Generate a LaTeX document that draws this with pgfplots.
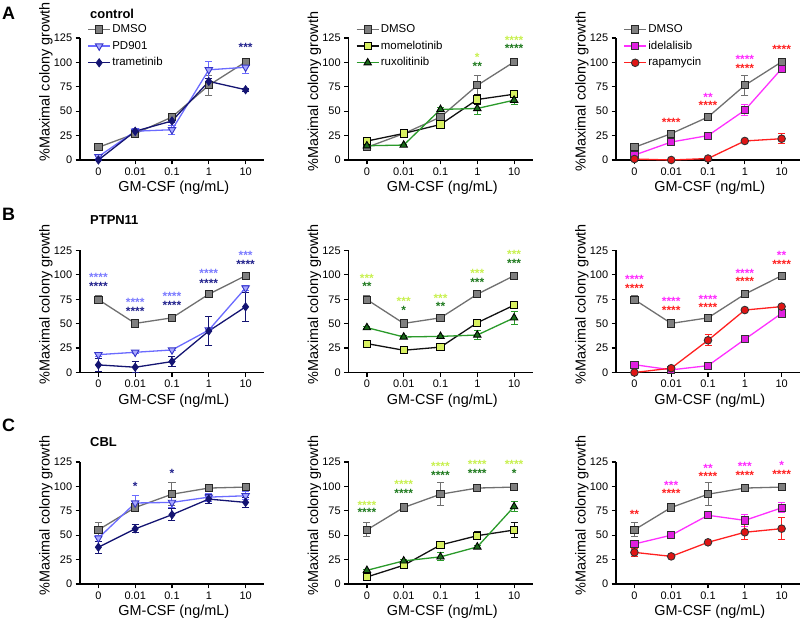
\documentclass[border=0pt]{standalone}
\usepackage{pgfplots}
\pgfplotsset{compat=1.18}
\usepackage{fontspec}
\setmainfont{Liberation Sans}
\setsansfont{Liberation Sans}
\definecolor{dmsoLine}{HTML}{707070}
\definecolor{dmsoFill}{HTML}{7F7F7F}
\definecolor{pdLine}{HTML}{6B6BFF}
\definecolor{pdFill}{HTML}{A8A8FF}
\definecolor{pdEdge}{HTML}{3535C8}
\definecolor{tramLine}{HTML}{141472}
\definecolor{momFill}{HTML}{D8F060}
\definecolor{momLine}{HTML}{111111}
\definecolor{ruxFill}{HTML}{1A6A1A}
\definecolor{ruxLine}{HTML}{2A9A2A}
\definecolor{ideFill}{HTML}{E020E0}
\definecolor{ideLine}{HTML}{FF30FF}
\definecolor{rapFill}{HTML}{E01515}
\definecolor{rapLine}{HTML}{FF2020}
\definecolor{pdStar}{HTML}{7B7BFF}
\definecolor{tramStar}{HTML}{22228C}
\definecolor{momStar}{HTML}{C8F050}
\definecolor{ruxStar}{HTML}{1F7A1F}
\definecolor{ideStar}{HTML}{FF2AFF}
\definecolor{rapStar}{HTML}{FF2020}
\pgfplotsset{
  gp/.style={
    scale only axis, width=184bp, height=122bp,
    xmin=-0.5, xmax=4.5, ymin=0, ymax=125,
    axis x line*=bottom, axis y line*=left,
    axis line style={-, line width=1.2bp, black},
    xtick={0,1,2,3,4}, xticklabels={0,0.01,0.1,1,10},
    ytick={0,25,50,75,100,125},
    tick align=outside, major tick length=4.3bp,
    tick style={line width=1.2bp, black},
    tick label style={font=\fontsize{11}{13}\selectfont},
    /pgf/number format/assume math mode=true,
    xlabel={GM-CSF (ng/mL)}, ylabel={\%Maximal colony growth},
    label style={font=\fontsize{14.5}{16}\selectfont},
    xlabel style={at={(axis description cs:0.51,0)}, anchor=center, yshift=-28bp},
    ylabel style={at={(axis description cs:-0.185,0.56)}, anchor=center},
    clip=false, anchor=south west,
    legend image code/.code={\draw[mark repeat=2,mark phase=2,##1] plot coordinates {(0bp,0bp)(11bp,0bp)(22bp,0bp)};},
    legend style={at={(axis description cs:0.04,1.13)}, anchor=north west, draw=none, fill=none,
      font=\fontsize{11.5}{13.5}\selectfont, inner sep=0pt, row sep=2.6bp,
      nodes={inner sep=1.5bp, text height=8.6bp, text depth=2.5bp}},
    legend cell align=left,
  },
  ebar/.style={
    error bars/y dir=both, error bars/y explicit,
    error bars/error bar style={color=#1, line width=1bp, solid},
    error bars/error mark options={rotate=90, mark size=3.5bp, line width=1bp, color=#1},
  },
  dmso/.style={color=dmsoLine, line width=1.3bp, mark=square*, mark size=3.6bp,
    mark options={fill=dmsoFill, draw=black!85, line width=0.9bp}, ebar=dmsoLine},
  pd/.style={color=pdLine, line width=1.3bp, mark=triangle*, mark size=4.3bp,
    mark options={fill=pdFill, draw=pdEdge, line width=0.9bp, rotate=180}, ebar=pdLine},
  tram/.style={color=tramLine, line width=1.3bp, mark=diamond*, mark size=4bp,
    mark options={fill=tramLine, draw=tramLine, line width=0.9bp}, ebar=tramLine},
  mom/.style={color=momLine, line width=1.3bp, mark=square*, mark size=3.6bp,
    mark options={fill=momFill, draw=black, line width=0.9bp}, ebar=momLine},
  rux/.style={color=ruxLine, line width=1.3bp, mark=triangle*, mark size=4.3bp,
    mark options={fill=ruxFill, draw=black, line width=0.9bp}, ebar=ruxLine},
  ide/.style={color=ideLine, line width=1.3bp, mark=square*, mark size=3.6bp,
    mark options={fill=ideFill, draw=black!80, line width=0.9bp}, ebar=ideLine},
  rap/.style={color=rapLine, line width=1.3bp, mark=*, mark size=3.8bp,
    mark options={fill=rapFill, draw=black!80, line width=0.9bp}, ebar=rapLine},
}
\tikzset{st/.style={anchor=base, yshift=-7bp, inner sep=0pt, font=\fontsize{12}{13}\selectfont\bfseries, text=#1}}
\begin{document}
\begin{tikzpicture}
\useasboundingbox (0,0) rectangle (800bp,620bp);
% panel letters and titles
\node[font=\fontsize{18}{20}\selectfont\bfseries] at (8.5bp,607bp) {A};
\node[font=\fontsize{18}{20}\selectfont\bfseries] at (8.5bp,405.5bp) {B};
\node[font=\fontsize{18}{20}\selectfont\bfseries] at (8.5bp,195bp) {C};
\node[font=\fontsize{13}{15}\selectfont\bfseries, anchor=west, inner sep=0pt] at (90bp,606bp) {control};
\node[font=\fontsize{13}{15}\selectfont\bfseries, anchor=west, inner sep=0pt] at (90bp,400bp) {PTPN11};
\node[font=\fontsize{13}{15}\selectfont\bfseries, anchor=west, inner sep=0pt] at (90bp,178.3bp) {CBL};

% ===== Row A =====
\begin{axis}[gp, at={(80bp,460bp)}, ylabel style={at={(axis description cs:-0.185,0.64)}}]
\addplot[dmso] coordinates {(0,13) +- (0,1) (1,27) +- (0,1.5) (2,44) +- (0,2) (3,76.5) +- (0,10) (4,100.5) +- (0,2)};
\addplot[pd] coordinates {(0,3.4) +- (0,2) (1,29.5) +- (0,3) (2,31) +- (0,4.5) (3,92.4) +- (0,9) (4,95) +- (0,6)};
\addplot[tram] coordinates {(0,0) +- (0,1) (1,29.5) +- (0,2) (2,40) +- (0,2) (3,80.5) +- (0,3) (4,72) +- (0,1.5)};
\legend{DMSO,PD901,trametinib}
\node[st=tramStar] at (axis cs:4,118) {***};
\end{axis}

\begin{axis}[gp, at={(348.5bp,460bp)}]
\addplot[dmso] coordinates {(0,13) +- (0,1) (1,27) +- (0,1.5) (2,44) +- (0,2) (3,76.5) +- (0,10) (4,100.5) +- (0,2)};
\addplot[mom] coordinates {(0,19.4) +- (0,1.5) (1,27.2) +- (0,1) (2,36.4) +- (0,4) (3,62) +- (0,5) (4,67.4) +- (0,3)};
\addplot[rux] coordinates {(0,14.6) +- (0,1) (1,15.3) +- (0,1) (2,51.8) +- (0,1.5) (3,52.8) +- (0,6) (4,61.3) +- (0,4)};
\legend{DMSO,momelotinib,ruxolitinib}
\node[st=momStar] at (axis cs:3,108) {*};
\node[st=ruxStar] at (axis cs:3,98.8) {**};
\node[st=momStar] at (axis cs:4,126) {****};
\node[st=ruxStar] at (axis cs:4,117) {****};
\end{axis}

\begin{axis}[gp, at={(616bp,460bp)}]
\addplot[dmso] coordinates {(0,13) +- (0,1) (1,27) +- (0,1.5) (2,44) +- (0,2) (3,76.5) +- (0,10) (4,100.5) +- (0,2)};
\addplot[ide] coordinates {(0,5) +- (0,1) (1,18.4) +- (0,1.5) (2,25) +- (0,2) (3,51) +- (0,5.5) (4,93.5) +- (0,2)};
\addplot[rap] coordinates {(0,1) +- (0,0.5) (1,0) +- (0,0.5) (2,1.5) +- (0,0.5) (3,19.5) +- (0,1) (4,21.8) +- (0,5)};
\legend{DMSO,idelalisib,rapamycin}
\node[st=rapStar] at (axis cs:1,42) {****};
\node[st=ideStar] at (axis cs:2,67) {**};
\node[st=rapStar] at (axis cs:2,58.6) {****};
\node[st=ideStar] at (axis cs:3,106) {****};
\node[st=rapStar] at (axis cs:3,97) {****};
\node[st=rapStar] at (axis cs:4,116) {****};
\end{axis}

% ===== Row B =====
\begin{axis}[gp, at={(80bp,247.5bp)}]
\addplot[dmso] coordinates {(0,74.7) +- (0,3.8) (1,50.3) +- (0,1.5) (2,56) +- (0,1.5) (3,80.2) +- (0,1.5) (4,99.2) +- (0,1.5)};
\addplot[pd] coordinates {(0,18.3) +- (0,1.5) (1,20.7) +- (0,1) (2,23.1) +- (0,1) (3,43.5) +- (0,2) (4,86.6) +- (0,3)};
\addplot[tram] coordinates {(0,7.8) +- (0,6.5) (1,5.4) +- (0,5.5) (2,11.2) +- (0,5.5) (3,42.5) +- (0,14.8) (4,67.3) +- (0,15)};
\node[st=pdStar] at (axis cs:0,100) {****};
\node[st=tramStar] at (axis cs:0,91) {****};
\node[st=pdStar] at (axis cs:1,74.7) {****};
\node[st=tramStar] at (axis cs:1,65.6) {****};
\node[st=pdStar] at (axis cs:2,80.8) {****};
\node[st=tramStar] at (axis cs:2,71.7) {****};
\node[st=pdStar] at (axis cs:3,104) {****};
\node[st=tramStar] at (axis cs:3,94.7) {****};
\node[st=pdStar] at (axis cs:4,123) {***};
\node[st=tramStar] at (axis cs:4,114) {****};
\end{axis}

\begin{axis}[gp, at={(348.5bp,247.5bp)}]
\addplot[dmso] coordinates {(0,74.7) +- (0,3.8) (1,50.3) +- (0,1.5) (2,56) +- (0,1.5) (3,80.2) +- (0,1.5) (4,99.2) +- (0,1.5)};
\addplot[mom] coordinates {(0,29.6) +- (0,1) (1,22.8) +- (0,1) (2,26) +- (0,1) (3,51) +- (0,1.5) (4,69) +- (0,3)};
\addplot[rux] coordinates {(0,46) +- (0,1) (1,36.4) +- (0,1) (2,37) +- (0,1) (3,38.4) +- (0,5) (4,56) +- (0,7)};
\node[st=momStar] at (axis cs:0,99.7) {***};
\node[st=ruxStar] at (axis cs:0,91) {**};
\node[st=momStar] at (axis cs:1,75.6) {***};
\node[st=ruxStar] at (axis cs:1,67) {*};
\node[st=momStar] at (axis cs:2,79) {***};
\node[st=ruxStar] at (axis cs:2,70.5) {**};
\node[st=momStar] at (axis cs:3,104.8) {***};
\node[st=ruxStar] at (axis cs:3,95.6) {***};
\node[st=momStar] at (axis cs:4,124) {***};
\node[st=ruxStar] at (axis cs:4,115) {***};
\end{axis}

\begin{axis}[gp, at={(616bp,247.5bp)}]
\addplot[dmso] coordinates {(0,74.7) +- (0,3.8) (1,50.3) +- (0,1.5) (2,56) +- (0,1.5) (3,80.2) +- (0,1.5) (4,99.2) +- (0,1.5)};
\addplot[ide] coordinates {(0,8) +- (0,1) (1,2.7) +- (0,0.5) (2,7) +- (0,1) (3,34) +- (0,1.5) (4,60.6) +- (0,2)};
\addplot[rap] coordinates {(0,0) +- (0,0.5) (1,4.4) +- (0,1) (2,33) +- (0,5.5) (3,64) +- (0,2) (4,67.5) +- (0,1.5)};
\node[st=ideStar] at (axis cs:0,98) {****};
\node[st=rapStar] at (axis cs:0,89) {****};
\node[st=ideStar] at (axis cs:1,75.6) {****};
\node[st=rapStar] at (axis cs:1,66.4) {****};
\node[st=ideStar] at (axis cs:2,78) {****};
\node[st=rapStar] at (axis cs:2,70) {****};
\node[st=ideStar] at (axis cs:3,105) {****};
\node[st=rapStar] at (axis cs:3,96) {****};
\node[st=ideStar] at (axis cs:4,122.6) {**};
\node[st=rapStar] at (axis cs:4,114) {****};
\end{axis}

% ===== Row C =====
\begin{axis}[gp, at={(80bp,36bp)}]
\addplot[dmso] coordinates {(0,55.5) +- (0,7) (1,78.4) +- (0,3.5) (2,92) +- (0,11.5) (3,98.3) +- (0,3) (4,99.3) +- (0,4)};
\addplot[pd] coordinates {(0,47) +- (0,3) (1,83) +- (0,8) (2,83.6) +- (0,5) (3,89) +- (0,4) (4,90.4) +- (0,4)};
\addplot[tram] coordinates {(0,37.7) +- (0,6) (1,56.5) +- (0,4) (2,71) +- (0,6) (3,87) +- (0,5) (4,83.6) +- (0,5)};
\node[st=tramStar] at (axis cs:1,103) {*};
\node[st=tramStar] at (axis cs:2,116) {*};
\end{axis}

\begin{axis}[gp, at={(348.5bp,36bp)}]
\addplot[dmso] coordinates {(0,55.5) +- (0,7) (1,78.4) +- (0,3.5) (2,92) +- (0,11.5) (3,98.3) +- (0,3) (4,99.3) +- (0,4)};
\addplot[mom] coordinates {(0,7.2) +- (0,1.5) (1,19.2) +- (0,1.5) (2,40) +- (0,2.5) (3,49.5) +- (0,4) (4,55.3) +- (0,8)};
\addplot[rux] coordinates {(0,14) +- (0,1) (1,23.7) +- (0,1.5) (2,27.8) +- (0,4) (3,38) +- (0,1.5) (4,79.3) +- (0,5)};
\node[st=momStar] at (axis cs:0,84) {****};
\node[st=ruxStar] at (axis cs:0,76) {****};
\node[st=momStar] at (axis cs:1,104.7) {****};
\node[st=ruxStar] at (axis cs:1,95.5) {****};
\node[st=momStar] at (axis cs:2,123) {****};
\node[st=ruxStar] at (axis cs:2,114) {****};
\node[st=momStar] at (axis cs:3,125) {****};
\node[st=ruxStar] at (axis cs:3,116) {****};
\node[st=momStar] at (axis cs:4,125.7) {****};
\node[st=ruxStar] at (axis cs:4,116.8) {*};
\end{axis}

\begin{axis}[gp, at={(616bp,36bp)}]
\addplot[dmso] coordinates {(0,55.5) +- (0,7) (1,78.4) +- (0,3.5) (2,92) +- (0,11.5) (3,98.3) +- (0,3) (4,99.3) +- (0,4)};
\addplot[ide] coordinates {(0,41) +- (0,1.5) (1,50) +- (0,2) (2,70.4) +- (0,1.5) (3,65.2) +- (0,6) (4,78) +- (0,5)};
\addplot[rap] coordinates {(0,32.4) +- (0,4) (1,28.3) +- (0,1) (2,42.7) +- (0,1) (3,53) +- (0,7.5) (4,56.7) +- (0,11.5)};
\node[st=rapStar] at (axis cs:0,74.5) {**};
\node[st=ideStar] at (axis cs:1,104) {***};
\node[st=rapStar] at (axis cs:1,95.6) {****};
\node[st=ideStar] at (axis cs:2,121.6) {**};
\node[st=rapStar] at (axis cs:2,113.7) {****};
\node[st=ideStar] at (axis cs:3,123) {***};
\node[st=rapStar] at (axis cs:3,114.4) {****};
\node[st=ideStar] at (axis cs:4,124) {*};
\node[st=rapStar] at (axis cs:4,115) {****};
\end{axis}
\end{tikzpicture}
\end{document}
